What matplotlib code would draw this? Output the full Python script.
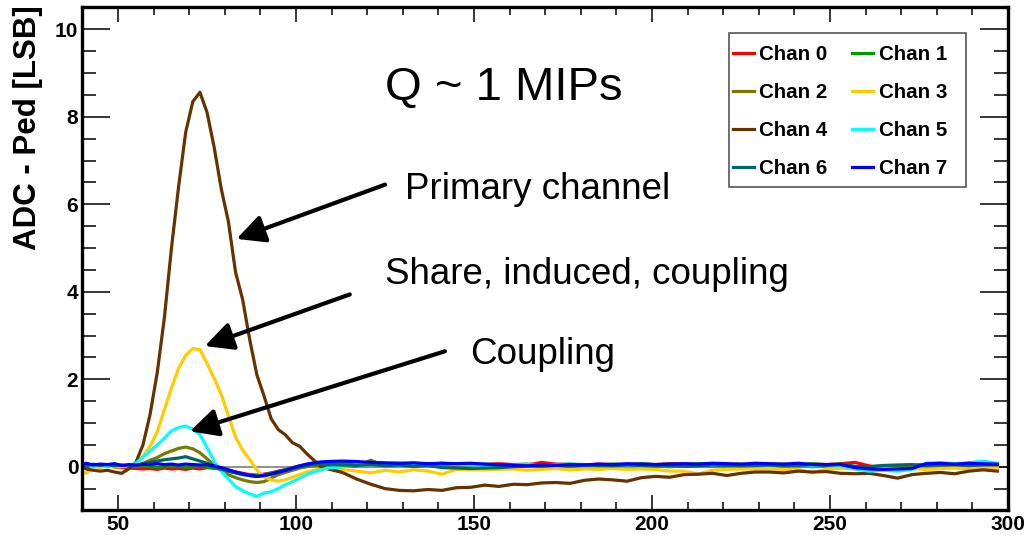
import numpy as np
import matplotlib
matplotlib.use("Agg")
import matplotlib.pyplot as plt
from matplotlib.patches import ArrowStyle, Rectangle

plt.rcParams['font.family'] = ['Liberation Sans', 'DejaVu Sans']

# sample positions (time bins)
x_head = [40] + list(range(41, 110, 2))
x_tail = list(range(113, 298, 4))

chan_names = ["Chan 0", "Chan 1", "Chan 2", "Chan 3", "Chan 4", "Chan 5", "Chan 6", "Chan 7"]
chan_colors = ["#ff0000", "#009900", "#7a7a00", "#ffcc00", "#663300", "#00ffff", "#006666", "#0000ff"]

chan0 = [0.02, 0.0, 0.03, 0.01, 0.02, 0.0, -0.02, -0.03, -0.04, -0.05,
         -0.04, -0.06, -0.03, -0.05, -0.04, -0.06, -0.03, -0.05, -0.02, -0.03,
         -0.04, -0.08, -0.12, -0.15, -0.18, -0.19, -0.17, -0.14, -0.1, -0.07,
         -0.03, 0.01, 0.04, 0.06, 0.07, 0.08,
         0.09, 0.08, 0.07, 0.06, 0.07, 0.05, 0.06, 0.05, 0.04, 0.06,
         0.05, 0.07, 0.05, 0.04, 0.1, 0.06, 0.05, 0.04, 0.06, 0.05,
         0.04, 0.06, 0.05, 0.07, 0.06, 0.05, 0.07, 0.06, 0.05, 0.04,
         0.06, 0.05, 0.04, 0.06, 0.05, 0.07, 0.1, 0.02, -0.03, -0.02,
         0.0, 0.05, 0.06, 0.05, 0.04, 0.06, 0.05]
chan1 = [0.04, 0.02, 0.05, 0.03, 0.04, 0.02, 0.03, 0.01, 0.0, 0.01,
         0.0, -0.01, 0.0, 0.01, 0.0, -0.01, 0.0, 0.01, -0.01, -0.03,
         -0.06, -0.1, -0.14, -0.17, -0.19, -0.2, -0.18, -0.15, -0.11, -0.07,
         -0.02, 0.02, 0.05, 0.07, 0.08, 0.09,
         0.1, 0.09, 0.08, 0.07, 0.08, 0.06, 0.07, 0.05, 0.06, 0.05,
         0.06, 0.04, 0.05, 0.06, 0.04, 0.05, 0.06, 0.05, 0.04, 0.06,
         0.05, 0.07, 0.05, 0.06, 0.05, 0.07, 0.06, 0.05, 0.06, 0.04,
         0.05, 0.06, 0.05, 0.07, 0.05, 0.06, 0.0, -0.02, -0.04, 0.0,
         0.02, 0.06, 0.05, 0.07, 0.06, 0.05, 0.06]
chan2 = [0.02, 0.0, 0.03, 0.01, 0.02, 0.0, 0.01, 0.0, 0.02, 0.08,
         0.15, 0.21, 0.3, 0.36, 0.42, 0.45, 0.41, 0.32, 0.18, 0.04,
         -0.09, -0.18, -0.25, -0.3, -0.34, -0.36, -0.34, -0.26, -0.18, -0.13,
         -0.08, -0.03, 0.0, 0.03, 0.02, 0.04,
         0.03, 0.01, 0.15, 0.02, 0.03, 0.01, 0.04, 0.02, 0.03, 0.0,
         0.02, 0.03, 0.01, 0.04, 0.02, 0.03, 0.01, 0.02, 0.04, 0.02,
         0.01, 0.03, 0.02, 0.0, 0.02, 0.03, 0.01, 0.02, 0.03, 0.02,
         0.01, 0.03, 0.02, 0.0, 0.01, 0.02, -0.02, 0.0, 0.02, 0.03,
         0.01, 0.02, 0.03, 0.01, 0.02, 0.03, 0.04]
chan3 = [-0.12, -0.15, 0.0, -0.02, 0.02, 0.0, 0.0, 0.02, 0.08, 0.24,
         0.47, 0.8, 1.3, 1.8, 2.25, 2.55, 2.7, 2.68, 2.36, 2.02,
         1.65, 1.16, 0.68, 0.38, 0.16, -0.08, -0.23, -0.3, -0.33, -0.3,
         -0.24, -0.18, -0.12, -0.08, -0.05, -0.04,
         -0.06, -0.1, -0.14, -0.08, -0.12, -0.07, -0.1, -0.17, -0.06, -0.07,
         -0.07, -0.06, -0.05, -0.08, -0.06, -0.04, -0.07, -0.05, -0.06, -0.04,
         -0.06, -0.05, -0.06, -0.1, -0.1, -0.17, -0.08, -0.06, -0.05, -0.05,
         -0.04, -0.06, -0.06, -0.14, -0.05, -0.04, -0.05, -0.06, -0.03, -0.05,
         -0.04, -0.06, -0.04, -0.03, -0.05, -0.02, -0.03]
chan4 = [0.02, -0.05, -0.08, -0.1, -0.08, -0.12, -0.15, -0.05, 0.1, 0.5,
         1.2, 2.15, 3.4, 5.0, 6.4, 7.65, 8.35, 8.56, 8.1, 7.3,
         6.35, 5.6, 4.45, 3.82, 2.9, 2.1, 1.62, 1.1, 0.85, 0.73,
         0.55, 0.47, 0.3, 0.15, 0.0, -0.05,
         -0.13, -0.28, -0.4, -0.5, -0.54, -0.55, -0.52, -0.54, -0.48, -0.47,
         -0.42, -0.45, -0.4, -0.41, -0.37, -0.36, -0.38, -0.31, -0.28, -0.3,
         -0.33, -0.25, -0.22, -0.24, -0.18, -0.17, -0.15, -0.2, -0.15, -0.12,
         -0.12, -0.14, -0.1, -0.12, -0.11, -0.15, -0.16, -0.15, -0.2, -0.26,
         -0.18, -0.15, -0.13, -0.16, -0.1, -0.07, -0.1]
chan5 = [0.03, 0.05, 0.0, 0.05, 0.02, 0.04, 0.02, 0.03, 0.08, 0.22,
         0.36, 0.5, 0.65, 0.82, 0.9, 0.93, 0.86, 0.73, 0.44, 0.12,
         -0.1, -0.28, -0.45, -0.55, -0.62, -0.68, -0.6, -0.57, -0.5, -0.41,
         -0.34, -0.26, -0.18, -0.12, -0.07, -0.03,
         0.0, 0.04, 0.05, 0.02, 0.04, 0.06, 0.03, 0.09, 0.05, 0.04,
         0.02, 0.0, 0.03, 0.05, 0.02, 0.04, 0.06, 0.03, 0.05, 0.04,
         0.02, 0.05, 0.03, 0.04, 0.02, 0.05, 0.03, 0.04, 0.02, 0.03,
         0.04, 0.05, 0.03, 0.02, 0.03, 0.02, -0.05, -0.1, -0.08, -0.1,
         -0.06, 0.08, 0.09, 0.07, 0.09, 0.13, 0.08]
chan6 = [0.05, 0.02, 0.06, 0.03, 0.05, 0.02, 0.04, 0.02, 0.03, 0.06,
         0.1, 0.13, 0.16, 0.18, 0.2, 0.23, 0.18, 0.13, 0.08, 0.0,
         -0.06, -0.1, -0.14, -0.18, -0.2, -0.22, -0.2, -0.17, -0.13, -0.09,
         -0.04, 0.0, 0.03, 0.05, 0.06, 0.05,
         0.04, 0.03, 0.05, 0.02, 0.04, 0.01, 0.03, -0.02, -0.03, -0.04,
         -0.03, -0.02, 0.0, 0.02, 0.01, 0.03, 0.02, 0.04, 0.03, 0.02,
         0.04, 0.03, 0.02, 0.03, 0.01, 0.02, 0.04, 0.03, 0.02, 0.03,
         0.04, 0.02, 0.03, 0.05, 0.03, 0.06, 0.01, 0.0, 0.03, 0.04,
         0.05, 0.03, 0.04, 0.05, 0.03, 0.04, 0.05]
chan7 = [0.05, 0.08, 0.04, 0.06, 0.05, 0.07, 0.03, 0.05, 0.04, 0.06,
         0.05, 0.07, 0.05, 0.06, 0.04, 0.06, 0.05, 0.04, 0.05, 0.02,
         -0.02, -0.07, -0.12, -0.16, -0.2, -0.22, -0.2, -0.17, -0.12, -0.08,
         -0.03, 0.02, 0.06, 0.09, 0.11, 0.12,
         0.13, 0.12, 0.1, 0.09, 0.08, 0.09, 0.07, 0.08, 0.07, 0.08,
         0.06, 0.05, 0.03, 0.02, 0.04, 0.03, 0.05, 0.04, 0.06, 0.05,
         0.07, 0.06, 0.05, 0.06, 0.07, 0.06, 0.08, 0.07, 0.06, 0.08,
         0.07, 0.06, 0.08, 0.05, 0.05, 0.05, -0.02, -0.05, -0.06, -0.05,
         -0.04, 0.07, 0.08, 0.06, 0.08, 0.07, 0.06]
channels = [chan0, chan1, chan2, chan3, chan4, chan5, chan6, chan7]

# annotation texts and arrows (tail -> head, data coords)
notes = ["Primary channel", "Share, induced, coupling", "Coupling"]
note_pos = [(130.6, 6.35), (125.0, 4.4), (148.8, 2.57)]
arrow_tails = [(125.0, 6.45), (115.1, 3.94), (141.8, 2.64)]
arrow_heads = [(83.3, 5.21), (74.4, 2.76), (70.2, 0.81)]

fig = plt.figure(figsize=(10.27, 5.35), dpi=100)
ax = fig.add_axes([0.0803, 0.0458, 0.9012, 0.9402])

ax.axhline(0, color="0.45", lw=1.1, zorder=1)

t = x_head + x_tail
lines = []
for name, col, vals in zip(chan_names, chan_colors, channels):
    ln, = ax.plot(t, vals, color=col, lw=2.3, label=name, zorder=2)
    lines.append(ln)

ax.set_xlim(40, 300)
ax.set_ylim(-1, 10.5)
ax.set_xticks([50, 100, 150, 200, 250, 300])
ax.set_xticks(np.arange(40, 301, 10), minor=True)
ax.set_yticks([0, 2, 4, 6, 8, 10])
ax.set_yticks(np.arange(-1, 10.6, 0.5), minor=True)

for s in ax.spines.values():
    s.set_linewidth(2.4)
ax.tick_params(which="both", direction="in", top=True, right=True, width=1.1)
ax.tick_params(axis="y", which="major", length=20, pad=3)
ax.tick_params(axis="y", which="minor", length=10)
ax.tick_params(axis="x", which="major", length=11, pad=3)
ax.tick_params(axis="x", which="minor", length=5.5)
for lab in ax.get_xticklabels() + ax.get_yticklabels():
    lab.set_fontsize(15)
    lab.set_fontweight("bold")

fig.text(28 / 1027, 1 - 128 / 535, "ADC - Ped [LSB]", rotation=90,
         ha="center", va="center", fontsize=22.5, fontweight="bold")

ax.text(125.0, 8.65, "Q ~ 1 MIPs", fontsize=34, ha="left", va="center")
for txt, (tx, ty) in zip(notes, note_pos):
    ax.text(tx, ty, txt, fontsize=26.5, ha="left", va="center")

style = ArrowStyle("-|>", head_length=1.0, head_width=0.5)
for tail, head in zip(arrow_tails, arrow_heads):
    ax.annotate("", xy=head, xytext=tail,
                arrowprops=dict(arrowstyle=style, color="black", lw=3,
                                mutation_scale=17, shrinkA=0, shrinkB=0),
                zorder=5)

# legend filled row by row (Chan 0, Chan 1 on the first row)
order = [0, 2, 4, 6, 1, 3, 5, 7]
leg = ax.legend([lines[i] for i in order], [chan_names[i] for i in order],
                ncol=2, loc="upper left", bbox_to_anchor=(733 / 1027, 1 - 45 / 535),
                bbox_transform=fig.transFigure, frameon=False,
                prop=dict(size=14.8, weight="bold"), handlelength=1.0,
                handletextpad=0.28, columnspacing=1.2, labelspacing=0.93,
                borderpad=0, borderaxespad=0)
fig.add_artist(Rectangle((729 / 1027, 1 - 187 / 535), 237 / 1027, 154 / 535,
                         transform=fig.transFigure, fill=False,
                         edgecolor="#555555", lw=1.2, zorder=6))

fig.savefig("out.png", dpi=100)
